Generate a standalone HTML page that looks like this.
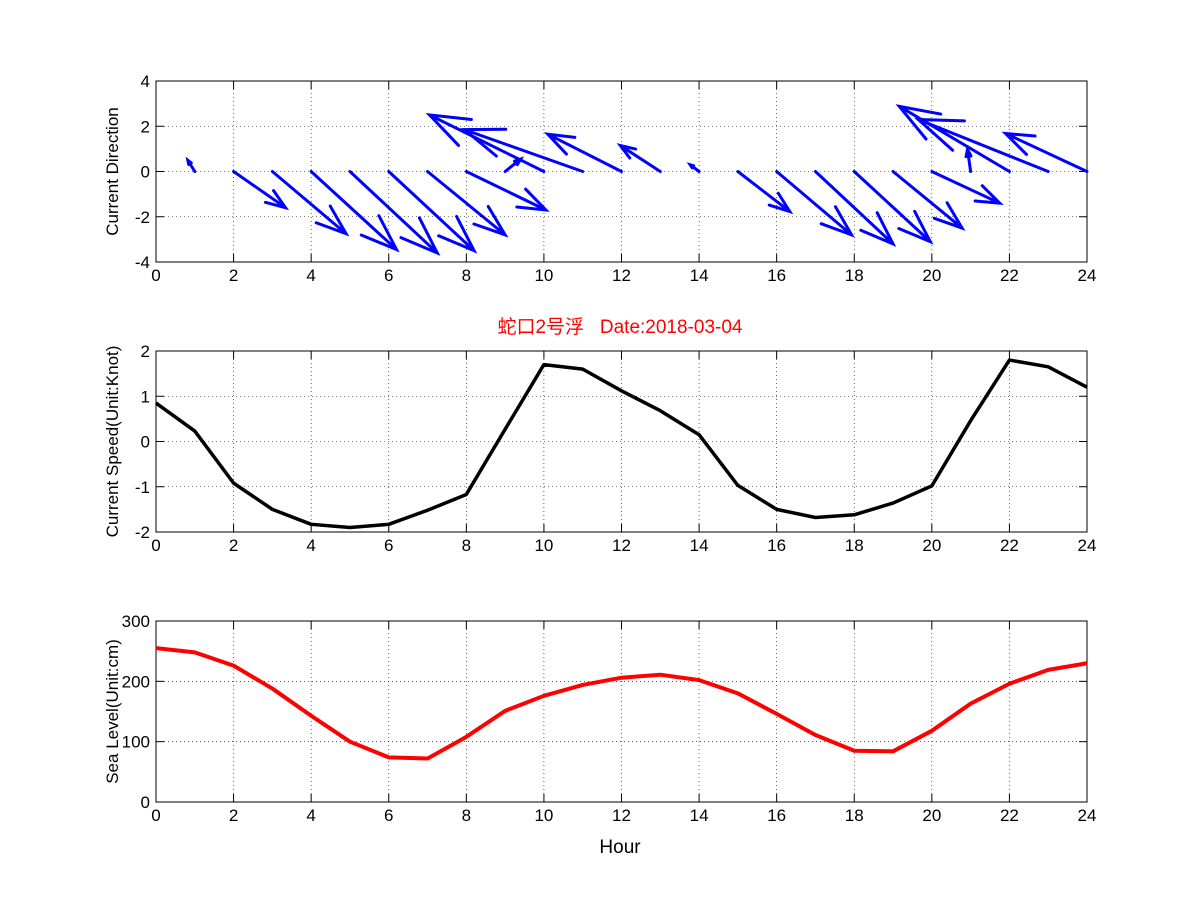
<!DOCTYPE html>
<html><head><meta charset="utf-8"><style>
body{margin:0;background:#fff;}
svg text{font-family:"Liberation Sans","Noto Sans CJK SC",sans-serif;}
</style></head><body>
<svg id="fig" width="1201" height="901" xmlns="http://www.w3.org/2000/svg">
<rect width="1201" height="901" fill="#fff"/>
</svg>
<script>
const hours=[0,1,2,3,4,5,6,7,8,9,10,11,12,13,14,15,16,17,18,19,20,21,22,23,24];
const dirU=[0,-0.18,1.34,1.9,2.2,2.25,2.2,2.0,2.05,0.4,-2.95,-3.05,-1.9,-1.03,-0.23,1.34,1.93,2.0,1.96,1.78,1.75,-0.08,-2.84,-3.35,-2.1];
const dirV=[0,0.5,-1.6,-2.75,-3.45,-3.6,-3.5,-2.8,-1.7,0.55,2.5,1.85,1.65,1.15,0.3,-1.77,-2.8,-3.2,-3.1,-2.5,-1.4,0.97,2.88,2.3,1.68];
const speed=[0.85,0.23,-0.92,-1.5,-1.83,-1.9,-1.83,-1.52,-1.17,0.27,1.7,1.6,1.12,0.68,0.15,-0.97,-1.5,-1.68,-1.62,-1.36,-0.98,0.46,1.8,1.65,1.2];
const sea=[255,248,226,188,143,100,74,72,108,151,176,194,206,211,202,180,146,111,85,84,118,163,196,219,230];
const xTicks=[0,2,4,6,8,10,12,14,16,18,20,22,24];
const dirTicks=[-4,-2,0,2,4];
const speedTicks=[-2,-1,0,1,2];
const seaTicks=[0,100,200,300];

const NS="http://www.w3.org/2000/svg";
const svg=document.getElementById('fig');
function mk(tag,attrs,parent){const e=document.createElementNS(NS,tag);for(const k in attrs)e.setAttribute(k,attrs[k]);(parent||svg).appendChild(e);return e;}
const X0=156,X1=1087;
const xs=h=>X0+(h-0)/24*(X1-X0);

function axes(name,top,bot,ymin,ymax,yTicks,ylabel){
  const ys=v=>bot-(v-ymin)/(ymax-ymin)*(bot-top);
  const g=mk('g',{});
  
  
  // grid
  xTicks.forEach(t=>{const l=mk('line',{x1:xs(t),x2:xs(t),y1:top,y2:bot,stroke:'#000','stroke-width':0.6,'stroke-dasharray':'1,3'},g);});
  yTicks.forEach(t=>{const l=mk('line',{x1:X0,x2:X1,y1:ys(t),y2:ys(t),stroke:'#000','stroke-width':0.6,'stroke-dasharray':'1,3'},g);});
  const b=mk('rect',{x:X0,y:top,width:X1-X0,height:bot-top,fill:'none',stroke:'#000','stroke-width':1},g);
  
  xTicks.forEach(t=>{
    mk('line',{x1:xs(t),x2:xs(t),y1:bot,y2:bot-8,stroke:'#000'},g);
    mk('line',{x1:xs(t),x2:xs(t),y1:top,y2:top+8,stroke:'#000'},g);
    const tx=mk('text',{x:xs(t),y:bot+19,'font-size':17,'text-anchor':'middle'},g);tx.textContent=t;
    
  });
  yTicks.forEach(t=>{
    mk('line',{x1:X0,x2:X0+8,y1:ys(t),y2:ys(t),stroke:'#000'},g);
    mk('line',{x1:X1,x2:X1-8,y1:ys(t),y2:ys(t),stroke:'#000'},g);
    const tx=mk('text',{x:X0-6,y:ys(t)+6,'font-size':17,'text-anchor':'end'},g);tx.textContent=t;
    
  });
  const yl=mk('text',{x:0,y:0,'font-size':17,'text-anchor':'middle',transform:`translate(${X0-38},${(top+bot)/2}) rotate(-90)`},g);
  yl.textContent=ylabel;
  return ys;
}

// top: quiver
const ys1=axes('direction-axes',81,262,-4,4,dirTicks,'Current Direction');
const qg=mk('g',{stroke:'#0000ff','stroke-width':3,fill:'none','stroke-linecap':'round'});

hours.forEach((h,i)=>{
  const x0=xs(h),y0=ys1(0),x1=xs(h+dirU[i]),y1=ys1(dirV[i]);
  const dx=x1-x0,dy=y1-y0,len=Math.hypot(dx,dy);
  if(len<1)return;
  const a=Math.atan2(dy,dx),hl=len*0.33,ang=0.35;
  const p=mk('path',{d:`M${x0},${y0}L${x1},${y1}M${x1-hl*Math.cos(a-ang)},${y1-hl*Math.sin(a-ang)}L${x1},${y1}L${x1-hl*Math.cos(a+ang)},${y1-hl*Math.sin(a+ang)}`},qg);
  
});

// middle
const ys2=axes('speed-axes',351,532,-2,2,speedTicks,'Current Speed(Unit:Knot)');
const sp=mk('polyline',{points:hours.map((h,i)=>xs(h)+','+ys2(speed[i])).join(' '),fill:'none',stroke:'#000','stroke-width':3.5,'stroke-linejoin':'round'});

const tt=mk('text',{x:620,y:333,'font-size':19,'text-anchor':'middle',fill:'#ff0000'});
tt.textContent='蛇口2号浮\u00a0\u00a0\u00a0Date:2018-03-04';


// bottom
const ys3=axes('sea-level-axes',621,802,0,300,seaTicks,'Sea Level(Unit:cm)');
const sl=mk('polyline',{points:hours.map((h,i)=>xs(h)+','+ys3(sea[i])).join(' '),fill:'none',stroke:'#ff0000','stroke-width':4,'stroke-linejoin':'round'});

const xl=mk('text',{x:620,y:853,'font-size':19,'text-anchor':'middle'});
xl.textContent='Hour';
</script>
</body></html>
